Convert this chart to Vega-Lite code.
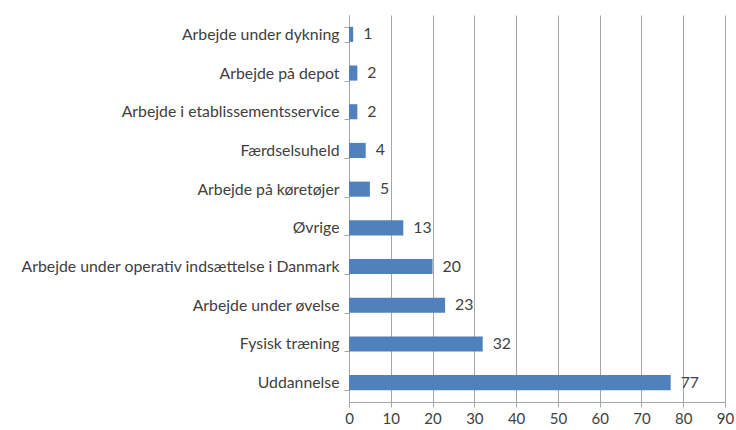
{
  "$schema": "https://vega.github.io/schema/vega-lite/v6.json",
  "autosize": "none",
  "width": 376,
  "height": 387,
  "padding": {"left": 349, "top": 15, "right": 11, "bottom": 28},
  "background": "white",
  "config": {"view": {"stroke": null}, "font": "Lato"},
  "data": {"values": [
    {"kategori": "Arbejde under dykning", "antal": 1},
    {"kategori": "Arbejde på depot", "antal": 2},
    {"kategori": "Arbejde i etablissementsservice", "antal": 2},
    {"kategori": "Færdselsuheld", "antal": 4},
    {"kategori": "Arbejde på køretøjer", "antal": 5},
    {"kategori": "Øvrige", "antal": 13},
    {"kategori": "Arbejde under operativ indsættelse i Danmark", "antal": 20},
    {"kategori": "Arbejde under øvelse", "antal": 23},
    {"kategori": "Fysisk træning", "antal": 32},
    {"kategori": "Uddannelse", "antal": 77}
  ]},
  "encoding": {
    "y": {"field": "kategori", "type": "nominal", "sort": null, "title": null,
      "scale": {"paddingInner": 0.61, "paddingOuter": 0.305},
      "axis": {"tickBand": "extent", "tickSize": 5, "labelPadding": 5, "domainColor": "#a6a6a6", "tickColor": "#a6a6a6", "labelColor": "#404040", "labelFontSize": 15.8, "labelFont": "Lato", "labelLimit": 400}},
    "x": {"field": "antal", "type": "quantitative", "title": null,
      "scale": {"domain": [0, 90], "nice": false},
      "axis": {"values": [0,10,20,30,40,50,60,70,80,90], "grid": true, "gridColor": "#a6a6a6", "domainColor": "#a6a6a6", "tickColor": "#a6a6a6", "tickSize": 5, "labelPadding": 4, "labelColor": "#404040", "labelFontSize": 15, "labelFont": "Lato", "labelFlush": false}}
  },
  "layer": [
    {"mark": {"type": "bar", "color": "#4f81bd"}},
    {"mark": {"type": "text", "align": "left", "dx": 10, "fontSize": 15.8, "color": "#404040", "font": "Lato"},
     "encoding": {"text": {"field": "antal", "type": "quantitative"}}}
  ]
}
